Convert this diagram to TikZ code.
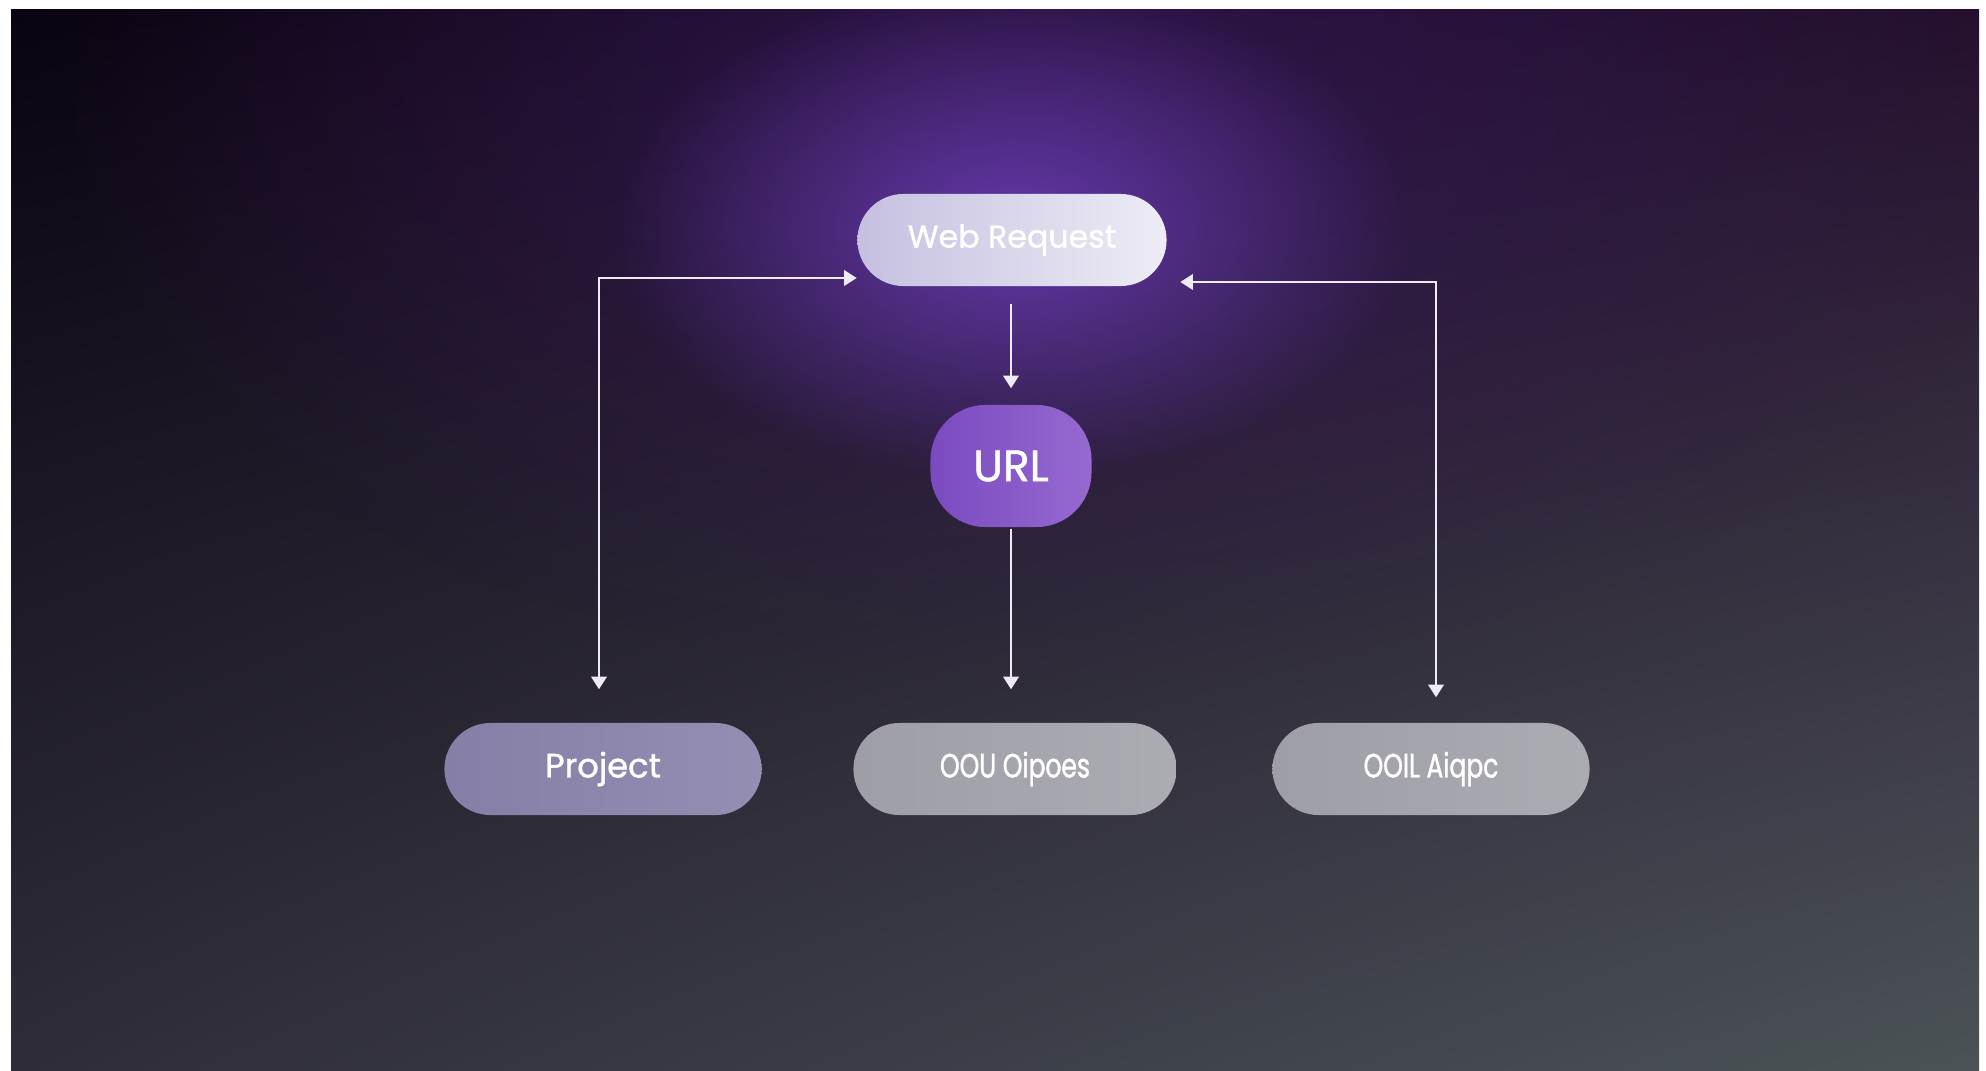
\documentclass[tikz,border=0pt]{standalone}
\usepackage{fontspec}
\newfontfamily\poppins[FakeBold=1.2]{Poppins}
\newfontfamily\poppinsnarrow[FakeBold=1.2, FakeStretch=0.74]{Poppins}
\usepackage{xcolor}
\definecolor{flow-corner-tl}{HTML}{0A0410}
\definecolor{flow-corner-tr}{HTML}{24102C}
\definecolor{flow-corner-bl}{HTML}{2E2C39}
\definecolor{flow-corner-br}{HTML}{4B5356}
\definecolor{flow-glow}{HTML}{6A3CB4}
\definecolor{flow-halo}{HTML}{3A1A5E}
\definecolor{flow-line}{HTML}{EEEAF6}
\definecolor{flow-lilac-l}{HTML}{C6C0E0}
\definecolor{flow-lilac-r}{HTML}{EDECF6}
\definecolor{flow-violet-l}{HTML}{7A4BBF}
\definecolor{flow-violet-r}{HTML}{9669D1}
\definecolor{flow-slate-l}{HTML}{857FA7}
\definecolor{flow-slate-r}{HTML}{948EB3}
\definecolor{flow-grey-l}{HTML}{9E9EA7}
\definecolor{flow-grey-r}{HTML}{ABABB2}
\usetikzlibrary{arrows.meta,calc,fadings,shadings}
\tikzfading[name=glowfade, inner color=transparent!0, outer color=transparent!100]

\tikzset{
  pill/.style={rounded corners=0.46cm, minimum width=3.17cm, minimum height=0.92cm,
    text=white, inner sep=0pt, font=\poppins\fontsize{9.6}{12}\selectfont},
  link/.style={draw=flow-line, line width=0.7pt,
    arrows={Triangle[length=3.6pt,width=4.4pt]-Triangle[length=3.6pt,width=4.4pt]}},
  sink/.style={draw=flow-line, line width=0.7pt, -{Triangle[length=3.6pt,width=4.4pt]}}
}

\begin{document}
\begin{tikzpicture}[x=0.01cm, y=-0.01cm]

    % Page
    \useasboundingbox (0, 0) rectangle (1986, 1070);
    \fill[white] (0, 0) rectangle (1986, 1070);

    % Background
    \shade[upper left=flow-corner-tl, upper right=flow-corner-tr,
           lower left=flow-corner-bl, lower right=flow-corner-br]
      (11, 10) rectangle (1979, 1070);

    % Glow
    \begin{scope}
      \clip (11, 10) rectangle (1979, 1070);
      \fill[flow-halo, opacity=0.7, path fading=glowfade] (1050, 120) ellipse (1000 and 560);
      \fill[flow-glow, opacity=0.9, path fading=glowfade] (1012, 230) ellipse (400 and 250);
    \end{scope}

    % Nodes
    \node[pill, minimum width=3.09cm, left color=flow-lilac-l, right color=flow-lilac-r,
          font=\poppins\fontsize{9}{11}\selectfont] (web) at (1012, 240) {Web Request};
    \node[pill, minimum width=1.61cm, minimum height=1.22cm, rounded corners=0.55cm,
          left color=flow-violet-l, right color=flow-violet-r,
          font=\poppins\fontsize{12.5}{14}\selectfont] (url) at (1011, 466) {URL};
    \node[pill, left color=flow-slate-l, right color=flow-slate-r] (proj) at (603, 769) {Project};
    \node[pill, minimum width=3.23cm, left color=flow-grey-l, right color=flow-grey-r,
          font=\poppinsnarrow\fontsize{9.6}{12}\selectfont] (obj) at (1015, 769) {OOU Oipoes};
    \node[pill, left color=flow-grey-l, right color=flow-grey-r,
          font=\poppinsnarrow\fontsize{9.6}{12}\selectfont] (alg) at (1431, 769) {OOIL Aiqpc};

    % Arrows
    \draw[sink] ($(web.south)+(-1, 17)$) -- ($(url.north)+(0, -16)$);
    \draw[sink] ($(url.south)+(0, 1)$) -- ($(url.south |- obj.north)+(0, -33)$);
    \draw[link] ($(proj.north)+(-4, -33)$) |- ($(web.west)+(0, 38)$);
    \draw[link] ($(alg.north)+(5, -25)$) |- ($(web.east)+(13, 42)$);

\end{tikzpicture}
\end{document}
